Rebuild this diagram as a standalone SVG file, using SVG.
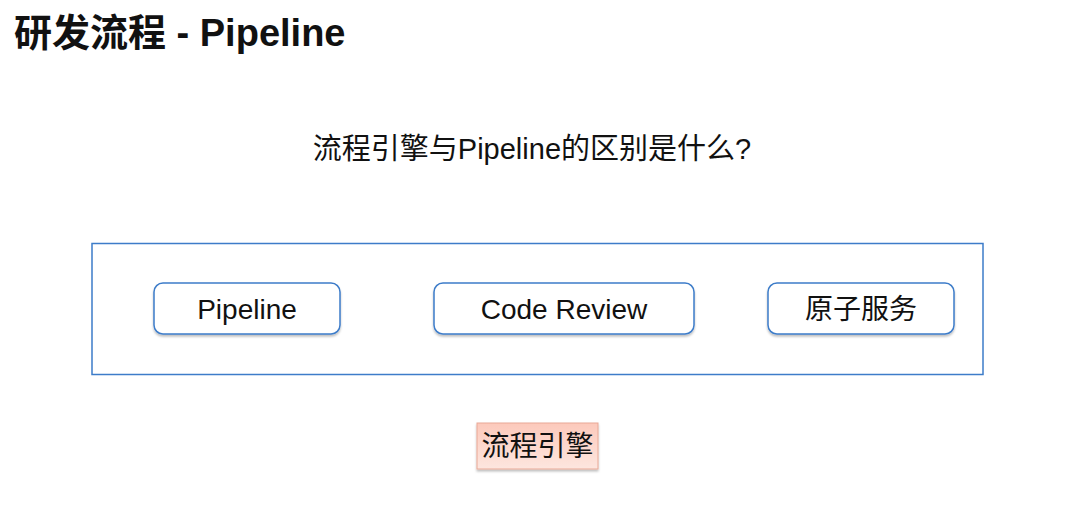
<svg xmlns="http://www.w3.org/2000/svg" width="1080" height="514" viewBox="0 0 1080 514">
<style>
text{font-family:"Liberation Sans","Noto Sans CJK SC",sans-serif;fill:#111}
.node{fill:#fff;stroke:#3d7cc9;stroke-width:1.5}
.lbl{font-size:28px;text-anchor:middle}
</style>
<defs>
<filter id="sh" x="-10%" y="-20%" width="120%" height="150%">
<feDropShadow dx="0" dy="2" stdDeviation="1.2" flood-color="#000" flood-opacity="0.25"/>
</filter>
<linearGradient id="pk" x1="0" y1="0" x2="0" y2="1">
<stop offset="0" stop-color="#fcc9bb"/>
<stop offset="1" stop-color="#fde6df"/>
</linearGradient>
</defs>
<rect width="1080" height="514" fill="#fff"/>
<text x="14" y="46" style="font-size:38px;font-weight:bold">研发流程 - Pipeline</text>
<text x="532" y="159" style="font-size:29px;text-anchor:middle">流程引擎与Pipeline的区别是什么?</text>
<g id="container">
<rect x="92" y="243.5" width="891" height="131" fill="#fff" stroke="#3d7cc9" stroke-width="1.5"/>
</g>
<g id="pipeline">
<rect class="node" x="154" y="283" width="186" height="51" rx="9" filter="url(#sh)"/>
<text class="lbl" x="247" y="319">Pipeline</text>
</g>
<g id="codereview">
<rect class="node" x="434" y="283" width="260" height="51" rx="9" filter="url(#sh)"/>
<text class="lbl" x="564" y="319">Code Review</text>
</g>
<g id="atomic">
<rect class="node" x="768" y="283" width="186" height="51" rx="9" filter="url(#sh)"/>
<text class="lbl" x="861" y="319">原子服务</text>
</g>
<g id="engine">
<rect x="477" y="423" width="121" height="46" fill="url(#pk)" stroke="#e9a896" stroke-width="1" filter="url(#sh)"/>
<text class="lbl" x="537.5" y="456">流程引擎</text>
</g>
<g id="connectors"></g>
</svg>
